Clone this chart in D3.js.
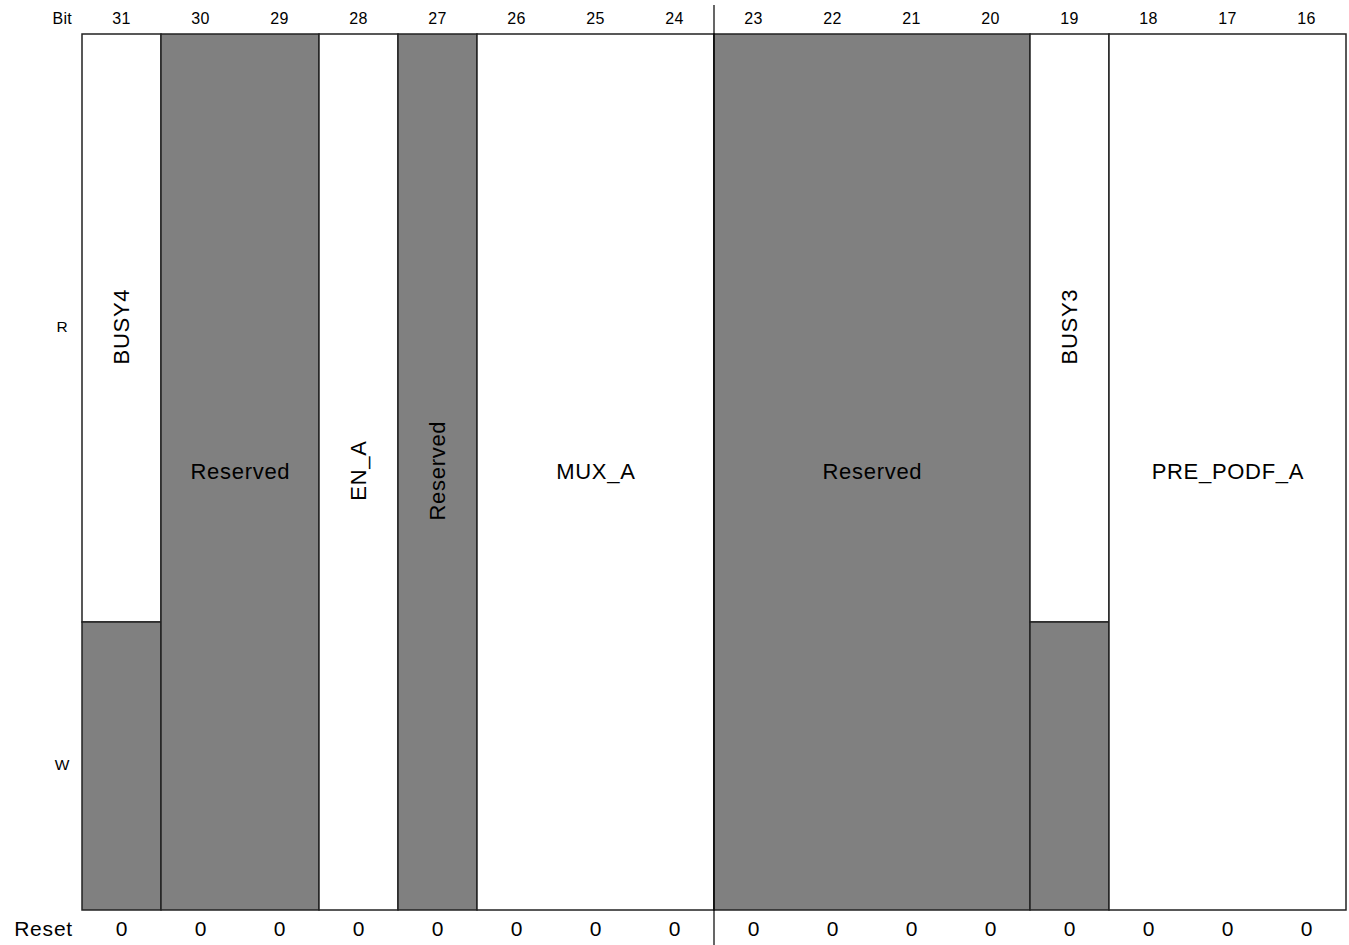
<!DOCTYPE html>
<html>
<head>
<meta charset="utf-8">
<script src="https://cdn.jsdelivr.net/npm/d3@7"></script>
<style>
  body { margin: 0; background: #fff; }
  text { font-family: "Liberation Sans", Arial, Helvetica, sans-serif; fill: #000; }
</style>
</head>
<body>
<div id="reg"></div>
<script>
// register bits 31..16
var bits = [31, 30, 29, 28, 27, 26, 25, 24, 23, 22, 21, 20, 19, 18, 17, 16];
var resetValues = [0, 0, 0, 0, 0, 0, 0, 0, 0, 0, 0, 0, 0, 0, 0, 0];

// fields
var fieldNames = ["BUSY4", "Reserved", "EN_A", "Reserved", "MUX_A", "Reserved", "BUSY3", "PRE_PODF_A"];
var fieldMsb   = [31, 30, 28, 27, 26, 23, 19, 18];
var fieldLsb   = [31, 29, 28, 27, 24, 20, 19, 16];
var fieldAccess = ["R", "reserved", "RW", "reserved", "RW", "reserved", "R", "RW"];
var rowLabels = ["R", "W"];

function init()
{
  var width = 1349, height = 945;
  var margin = {top: 34, right: 3, bottom: 35, left: 82};

  var svg = d3.select("#reg")
    .append("svg")
    .attr("width", width)
    .attr("height", height);

  var x = d3.scaleBand()
    .domain(bits)
    .range([margin.left, width - margin.right])
    .paddingInner(0).paddingOuter(0);

  // R row is taller than W row in the original
  var ySplit = 622;
  var yTop = margin.top, yBot = height - margin.bottom;
  var rowMid = {R: (yTop + ySplit) / 2 - 1, W: (ySplit + yBot) / 2 - 1};

  var grey = "#808080", lineCol = "#222";

  var fields = fieldNames.map(function(n, i) {
    return {name: n, msb: fieldMsb[i], lsb: fieldLsb[i], access: fieldAccess[i]};
  });

  var g = svg.append("g");

  fields.forEach(function(f) {
    var x0 = x(f.msb), x1 = x(f.lsb) + x.bandwidth();
    var w = x1 - x0;
    if (f.access == "reserved") {
      g.append("rect").attr("x", x0).attr("y", yTop).attr("width", w).attr("height", yBot - yTop)
        .style("fill", grey).style("stroke", lineCol).style("stroke-width", 1.5);
    } else if (f.access == "R") {
      g.append("rect").attr("x", x0).attr("y", yTop).attr("width", w).attr("height", ySplit - yTop)
        .style("fill", "#fff").style("stroke", lineCol).style("stroke-width", 1.5);
      g.append("rect").attr("x", x0).attr("y", ySplit).attr("width", w).attr("height", yBot - ySplit)
        .style("fill", grey).style("stroke", lineCol).style("stroke-width", 1.5);
    } else {
      g.append("rect").attr("x", x0).attr("y", yTop).attr("width", w).attr("height", yBot - yTop)
        .style("fill", "#fff").style("stroke", lineCol).style("stroke-width", 1.5);
    }
  });

  // field labels
  fields.forEach(function(f) {
    var cx = (x(f.msb) + x(f.lsb) + x.bandwidth()) / 2;
    var single = f.msb == f.lsb;
    var cy = f.access == "R" ? rowMid.R : (yTop + yBot) / 2 - 1;
    var t = g.append("text")
      .attr("text-anchor", "middle")
      .attr("dy", "0.35em")
      .style("font-size", "22px")
      .style("letter-spacing", "0.7px")
      .text(f.name);
    if (single) t.attr("transform", "translate(" + cx + "," + (cy - 0.4) + ") rotate(-90)");
    else t.attr("x", cx + 0.4).attr("y", cy);
  });

  // middle divider between byte halves
  svg.append("line")
    .attr("x1", x(23)).attr("x2", x(23))
    .attr("y1", 5).attr("y2", height)
    .style("stroke", "#000").style("stroke-width", 1.2);

  // bit numbers
  svg.selectAll(".bitnum")
    .data(bits)
    .enter()
    .append("text")
      .attr("x", function(d) { return x(d) + x.bandwidth() / 2; })
      .attr("y", 18)
      .attr("dy", "0.35em")
      .attr("text-anchor", "middle")
      .style("font-size", "16px")
      .style("letter-spacing", "0.3px")
      .text(function(d) { return d; });

  svg.append("text")
    .attr("x", 72).attr("y", 18).attr("dy", "0.35em")
    .attr("text-anchor", "end")
    .style("font-size", "16px")
    .style("letter-spacing", "0.3px")
    .text("Bit");

  // row labels
  rowLabels.forEach(function(r) {
    svg.append("text")
      .attr("x", 62).attr("y", rowMid[r])
      .attr("dy", "0.35em")
      .attr("text-anchor", "middle")
      .style("font-size", "15.5px")
      .text(r);
  });

  // reset row
  svg.selectAll(".reset")
    .data(resetValues)
    .enter()
    .append("text")
      .attr("x", function(d, i) { return x(bits[i]) + x.bandwidth() / 2; })
      .attr("y", 929)
      .attr("dy", "0.35em")
      .attr("text-anchor", "middle")
      .style("font-size", "21px")
      .text(function(d) { return d; });

  svg.append("text")
    .attr("x", 73).attr("y", 929).attr("dy", "0.35em")
    .attr("text-anchor", "end")
    .style("font-size", "21px")
    .style("letter-spacing", "0.8px")
    .text("Reset");
}

window.onload = init;
</script>
</body>
</html>
